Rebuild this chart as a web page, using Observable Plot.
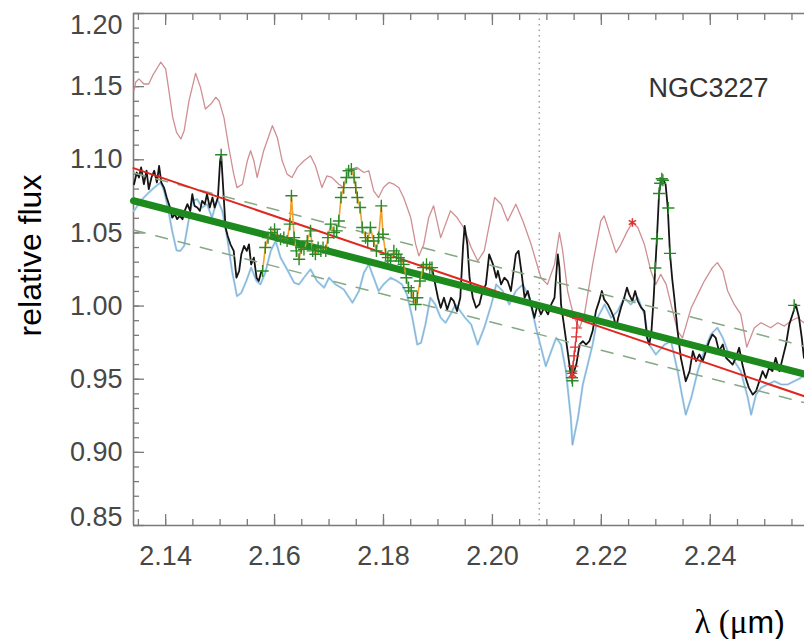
<!DOCTYPE html>
<html>
<head>
<meta charset="utf-8">
<script src="https://cdn.jsdelivr.net/npm/d3@7"></script>
<script src="https://cdn.jsdelivr.net/npm/@observablehq/plot@0.6"></script>
<style>
  body { margin: 0; background: #fff; }
</style>
</head>
<body>
<div id="chart"></div>
<script>
// Axis extents and labelled ticks
const xDomain = [2.1341, 2.2573];
const yDomain = [0.85, 1.20];
const xTickValues = [2.14, 2.16, 2.18, 2.20, 2.22, 2.24];
const yTickValues = [0.85, 0.90, 0.95, 1.00, 1.05, 1.10, 1.15, 1.20];
const xMinorTicks = d3.range(0, 25).map(i => 2.135 + i * 0.005);
const yMinorTicks = d3.range(0, 36).map(i => 0.85 + i * 0.01);

const objectName = "NGC3227";
const dividerWavelength = 2.2086;

// Upper (pink) spectrum
const fluxUpper = [
  [2.1342,1.1473],[2.1345,1.1530],[2.1351,1.1553],[2.1360,1.1518],[2.1369,1.1518],[2.1376,1.1575],
  [2.1391,1.1667],[2.1400,1.1621],[2.1406,1.1473],[2.1413,1.1290],[2.1420,1.1187],[2.1428,1.1142],
  [2.1434,1.1199],[2.1443,1.1404],[2.1455,1.1591],[2.1464,1.1495],[2.1473,1.1347],[2.1483,1.1381],
  [2.1492,1.1427],[2.1498,1.1404],[2.1507,1.1290],[2.1516,1.1084],[2.1525,1.0902],[2.1531,1.0810],
  [2.1541,1.0833],[2.1550,1.0993],[2.1556,1.1062],[2.1562,1.0993],[2.1568,1.0879],[2.1580,1.1062],
  [2.1596,1.1233],[2.1605,1.1153],[2.1614,1.0993],[2.1623,1.0902],[2.1632,1.0879],[2.1642,1.0948],
  [2.1654,1.0993],[2.1666,1.1027],[2.1675,1.0959],[2.1687,1.0810],[2.1696,1.0890],[2.1705,1.0879],
  [2.1718,1.0833],[2.1727,1.0810],[2.1733,1.0902],[2.1742,1.0936],[2.1751,1.0948],[2.1764,1.0913],
  [2.1773,1.0925],[2.1782,1.0788],[2.1791,1.0742],[2.1800,1.0810],[2.1810,1.0845],[2.1819,1.0833],
  [2.1828,1.0810],[2.1837,1.0742],[2.1850,1.0605],[2.1859,1.0423],[2.1865,1.0343],[2.1874,1.0423],
  [2.1883,1.0605],[2.1892,1.0685],[2.1905,1.0468],[2.1914,1.0560],[2.1923,1.0651],[2.1935,1.0605],
  [2.1947,1.0537],[2.1961,1.0400],[2.1973,1.0308],[2.1985,1.0377],[2.2004,1.0742],[2.2016,1.0696],
  [2.2028,1.0582],[2.2043,1.0696],[2.2056,1.0582],[2.2071,1.0422],[2.2089,1.0194],[2.2101,1.0148],
  [2.2114,1.0285],[2.2123,1.0502],[2.2129,1.0377],[2.2138,1.0103],[2.2150,0.9920],[2.2160,0.9852],
  [2.2169,0.9943],[2.2184,1.0285],[2.2199,1.0582],[2.2205,1.0617],[2.2218,1.0468],[2.2227,1.0365],
  [2.2236,1.0422],[2.2248,1.0514],[2.2257,1.0571],[2.2267,1.0537],[2.2279,1.0422],[2.2291,1.0240],
  [2.2300,1.0148],[2.2309,1.0217],[2.2319,1.0148],[2.2328,1.0011],[2.2340,0.9829],[2.2349,0.9783],
  [2.2365,0.9989],[2.2377,1.0080],[2.2389,1.0171],[2.2404,1.0263],[2.2413,1.0297],[2.2423,1.0240],
  [2.2432,1.0103],[2.2444,1.0011],[2.2456,0.9943],[2.2467,0.9720],[2.2481,0.9852],[2.2493,0.9886],
  [2.2511,0.9852],[2.2524,0.9886],[2.2536,0.9863],[2.2548,0.9898],[2.2560,0.9920],[2.2572,0.9886]
];

// Lower (light blue) spectrum
const fluxLower = [
  [2.1342,1.0651],[2.1354,1.0719],[2.1366,1.0765],[2.1379,1.0810],[2.1391,1.0845],[2.1397,1.0788],
  [2.1404,1.0674],[2.1412,1.0514],[2.1420,1.0381],[2.1427,1.0377],[2.1434,1.0411],[2.1441,1.0560],
  [2.1449,1.0719],[2.1458,1.0731],[2.1467,1.0674],[2.1476,1.0697],[2.1485,1.0605],[2.1495,1.0731],
  [2.1504,1.0651],[2.1513,1.0468],[2.1522,1.0240],[2.1531,1.0068],[2.1539,1.0091],[2.1548,1.0171],
  [2.1557,1.0263],[2.1567,1.0171],[2.1574,1.0148],[2.1583,1.0228],[2.1593,1.0377],[2.1602,1.0445],
  [2.1611,1.0331],[2.1623,1.0251],[2.1636,1.0160],[2.1645,1.0148],[2.1654,1.0194],[2.1666,1.0251],
  [2.1678,1.0171],[2.1691,1.0126],[2.1700,1.0194],[2.1712,1.0148],[2.1727,1.0114],[2.1743,1.0023],
  [2.1755,1.0103],[2.1764,1.0228],[2.1773,1.0285],[2.1782,1.0194],[2.1791,1.0103],[2.1800,1.0148],
  [2.1813,1.0194],[2.1825,1.0171],[2.1834,1.0148],[2.1843,1.0080],[2.1853,0.9920],[2.1862,0.9737],
  [2.1869,0.9749],[2.1877,0.9874],[2.1886,1.0057],[2.1895,1.0011],[2.1905,0.9920],[2.1914,0.9886],
  [2.1923,0.9943],[2.1932,1.0011],[2.1941,0.9966],[2.1950,0.9920],[2.1961,0.9874],[2.1973,0.9737],
  [2.1985,0.9852],[2.1998,1.0011],[2.2007,1.0148],[2.2019,1.0103],[2.2031,1.0011],[2.2043,1.0103],
  [2.2056,1.0148],[2.2068,1.0057],[2.2080,0.9852],[2.2098,0.9589],[2.2108,0.9692],[2.2117,0.9783],
  [2.2126,0.9737],[2.2135,0.9555],[2.2144,0.9235],[2.2147,0.9053],[2.2157,0.9235],[2.2166,0.9464],
  [2.2175,0.9600],[2.2184,0.9737],[2.2193,0.9920],[2.2206,1.0011],[2.2218,0.9920],[2.2230,0.9966],
  [2.2242,1.0057],[2.2254,1.0011],[2.2267,1.0057],[2.2279,0.9943],[2.2288,0.9737],[2.2300,0.9669],
  [2.2316,0.9737],[2.2328,0.9760],[2.2340,0.9555],[2.2349,0.9372],[2.2355,0.9258],[2.2365,0.9372],
  [2.2377,0.9555],[2.2389,0.9692],[2.2401,0.9806],[2.2413,0.9852],[2.2423,0.9783],[2.2432,0.9692],
  [2.2444,0.9623],[2.2456,0.9555],[2.2469,0.9372],[2.2475,0.9258],[2.2484,0.9395],[2.2493,0.9441],
  [2.2505,0.9464],[2.2518,0.9486],[2.2530,0.9464],[2.2542,0.9464],[2.2554,0.9486],[2.2566,0.9509],
  [2.2572,0.9532]
];

// Observed (black) spectrum, before and after the flagged stretch
const fluxObservedBlue = [
  [2.1342,1.0833],[2.1347,1.0913],[2.1351,1.0879],[2.1355,1.0948],[2.1360,1.0833],[2.1365,1.0925],
  [2.1369,1.0799],[2.1374,1.0879],[2.1379,1.0925],[2.1384,1.0845],[2.1388,1.0959],[2.1392,1.0845],
  [2.1397,1.0810],[2.1402,1.0742],[2.1408,1.0674],[2.1412,1.0605],[2.1417,1.0628],[2.1421,1.0594],
  [2.1426,1.0617],[2.1431,1.0594],[2.1435,1.0651],[2.1440,1.0697],[2.1445,1.0651],[2.1449,1.0765],
  [2.1453,1.0685],[2.1458,1.0674],[2.1463,1.0651],[2.1467,1.0719],[2.1472,1.0697],[2.1476,1.0765],
  [2.1481,1.0674],[2.1486,1.0742],[2.1490,1.0674],[2.1496,1.0742],[2.1500,1.0993],[2.1502,1.1034],
  [2.1506,1.0788],[2.1510,1.0537],[2.1514,1.0479],[2.1519,1.0422],[2.1525,1.0377],[2.1530,1.0194],
  [2.1535,1.0240],[2.1539,1.0354],[2.1544,1.0411],[2.1549,1.0377],[2.1553,1.0422],[2.1557,1.0285],
  [2.1562,1.0331],[2.1567,1.0194],[2.1571,1.0171],[2.1576,1.0240]
];
const fluxObservedRed = [
  [2.1889,1.0263],[2.1895,1.0148],[2.1900,1.0057],[2.1905,0.9988],[2.1911,1.0057],[2.1917,0.9977],
  [2.1924,1.0057],[2.1929,1.0034],[2.1935,0.9966],[2.1941,1.0057],[2.1946,1.0400],[2.1949,1.0548],
  [2.1954,1.0422],[2.1958,1.0194],[2.1964,1.0057],[2.1970,0.9989],[2.1976,1.0011],[2.1982,1.0103],
  [2.1988,1.0148],[2.1994,1.0354],[2.2001,1.0285],[2.2007,1.0194],[2.2010,1.0240],[2.2016,1.0148],
  [2.2022,1.0194],[2.2028,1.0171],[2.2034,1.0103],[2.2043,1.0354],[2.2048,1.0377],[2.2053,1.0240],
  [2.2059,1.0057],[2.2065,1.0103],[2.2071,1.0011],[2.2077,0.9920],[2.2083,1.0011],[2.2089,0.9943],
  [2.2095,0.9989],[2.2102,0.9943],[2.2108,1.0011],[2.2114,1.0057],[2.2120,1.0354],[2.2123,1.0263],
  [2.2126,1.0011],[2.2132,0.9852],[2.2138,0.9692],[2.2143,0.9555],[2.2146,0.9509],[2.2154,0.9600],
  [2.2160,0.9737],[2.2166,0.9760],[2.2172,0.9737],[2.2178,0.9760],[2.2184,0.9829],[2.2190,0.9966],
  [2.2196,1.0034],[2.2201,1.0103],[2.2205,1.0046],[2.2212,1.0011],[2.2218,0.9966],[2.2223,0.9920],
  [2.2227,0.9852],[2.2231,0.9920],[2.2236,0.9989],[2.2242,1.0057],[2.2247,1.0126],[2.2251,1.0080],
  [2.2257,1.0034],[2.2262,1.0103],[2.2267,1.0034],[2.2273,0.9989],[2.2279,0.9966],[2.2284,0.9783],
  [2.2288,0.9737],[2.2292,0.9829],[2.2296,1.0050],[2.2299,1.0260],[2.2302,1.0460],[2.2306,1.0770],
  [2.2310,1.0860],[2.2314,1.0865],[2.2318,1.0830],[2.2322,1.0670],[2.2326,1.0360],[2.2330,1.0190],
  [2.2334,1.0057],[2.2340,0.9829],[2.2346,0.9646],[2.2355,0.9486],[2.2362,0.9555],[2.2368,0.9692],
  [2.2374,0.9623],[2.2380,0.9669],[2.2386,0.9623],[2.2392,0.9692],[2.2398,0.9760],[2.2404,0.9806],
  [2.2410,0.9783],[2.2416,0.9692],[2.2423,0.9737],[2.2429,0.9646],[2.2435,0.9623],[2.2441,0.9600],
  [2.2447,0.9646],[2.2453,0.9715],[2.2459,0.9600],[2.2465,0.9509],[2.2471,0.9441],[2.2478,0.9395],
  [2.2484,0.9418],[2.2490,0.9486],[2.2496,0.9555],[2.2502,0.9509],[2.2508,0.9578],[2.2514,0.9555],
  [2.2520,0.9646],[2.2527,0.9555],[2.2533,0.9646],[2.2539,0.9737],[2.2545,0.9874],[2.2551,0.9943],
  [2.2557,1.0011],[2.2563,0.9920],[2.2568,0.9783],[2.2572,0.9646]
];

// Flagged stretch of the spectrum (orange, each point marked)
const flaggedStretch = [
  [2.1578,1.0240],[2.1583,1.0400],[2.1588,1.0468],[2.1593,1.0502],[2.1600,1.0525],[2.1605,1.0479],
  [2.1611,1.0457],[2.1617,1.0468],[2.1623,1.0445],[2.1628,1.0560],[2.1631,1.0754],[2.1636,1.0468],
  [2.1640,1.0377],[2.1645,1.0320],[2.1649,1.0400],[2.1654,1.0388],[2.1660,1.0445],[2.1666,1.0514],
  [2.1670,1.0377],[2.1675,1.0354],[2.1680,1.0400],[2.1685,1.0377],[2.1689,1.0400],[2.1694,1.0377],
  [2.1698,1.0468],[2.1703,1.0560],[2.1709,1.0502],[2.1714,1.0514],[2.1718,1.0582],[2.1722,1.0742],
  [2.1727,1.0810],[2.1732,1.0879],[2.1736,1.0925],[2.1741,1.0936],[2.1746,1.0879],[2.1749,1.0810],
  [2.1752,1.0742],[2.1757,1.0674],[2.1761,1.0537],[2.1767,1.0468],[2.1771,1.0445],[2.1776,1.0537],
  [2.1782,1.0445],[2.1787,1.0377],[2.1791,1.0468],[2.1796,1.0685],[2.1799,1.0491],[2.1804,1.0354],
  [2.1808,1.0331],[2.1813,1.0308],[2.1819,1.0377],[2.1824,1.0354],[2.1828,1.0331],[2.1832,1.0308],
  [2.1837,1.0285],[2.1842,1.0194],[2.1846,1.0126],[2.1851,1.0103],[2.1855,1.0057],[2.1859,1.0011],
  [2.1862,1.0057],[2.1867,1.0171],[2.1873,1.0263],[2.1879,1.0285],[2.1885,1.0263],[2.1889,1.0263]
];

// Other marked points (green plus signs)
const extraMarks = [
  [2.1502,1.1034],
  [2.2145,0.9555],[2.2146,0.9510],[2.2147,0.9490],
  [2.2299,1.0260],[2.2302,1.0460],[2.2306,1.0770],[2.2308,1.0840],[2.2311,1.0870],[2.2313,1.0860],
  [2.2323,1.0670],[2.2326,1.0360],
  [2.2554,1.0005]
];

// Absorption-line points (red)
const absorptionMarks = [
  [2.2156,0.9915],[2.2155,0.9850],[2.2154,0.9790],[2.2152,0.9720],[2.2150,0.9660],[2.2148,0.9590],[2.2146,0.9540]
];
const starMarks = [[2.2257,1.0571],[2.2147,0.9530]];

// Straight fits: red continuum, thick green continuum and its dashed band
const redFit = [[2.1341,1.0943],[2.2573,0.9383]];
const greenFit = [[2.1341,1.0720],[2.2573,0.9535]];
const bandUpper = [[2.1341,1.0910],[2.2573,0.9725]];
const bandLower = [[2.1341,1.0520],[2.2573,0.9340]];

const X = d => d[0], Y = d => d[1];
const axisColor = "#7a7a7a";
const labelColor = "#474747";
const fmt = d3.format(".2f");
const blank = () => "";

const chart = Plot.plot({
  width: 804,
  height: 639,
  marginTop: 13,
  marginLeft: 133,
  marginRight: 0,
  marginBottom: 114,
  x: {domain: xDomain},
  y: {domain: yDomain},
  style: {fontFamily: "'Liberation Sans', Arial, sans-serif", background: "#fff", overflow: "visible"},
  marks: [
    // frame: left, top and bottom edges
    Plot.ruleY([yDomain[0], yDomain[1]], {stroke: axisColor, strokeWidth: 1.6}),
    Plot.ruleX([xDomain[0]], {stroke: axisColor, strokeWidth: 1.6}),

    // ticks pointing into the frame
    Plot.axisX(xMinorTicks, {anchor: "bottom", tickSize: 6, dy: -6, tickFormat: blank, stroke: axisColor, strokeWidth: 1.3, label: null}),
    Plot.axisX(xTickValues, {anchor: "bottom", tickSize: 11, dy: -11, tickFormat: blank, stroke: axisColor, strokeWidth: 1.3, label: null}),
    Plot.axisX(xMinorTicks, {anchor: "top", tickSize: 6, dy: 6, tickFormat: blank, stroke: axisColor, strokeWidth: 1.3, label: null}),
    Plot.axisX(xTickValues, {anchor: "top", tickSize: 11, dy: 11, tickFormat: blank, stroke: axisColor, strokeWidth: 1.3, label: null}),
    Plot.axisY(yMinorTicks, {anchor: "left", tickSize: 6, dx: 6, tickFormat: blank, stroke: axisColor, strokeWidth: 1.3, label: null}),
    Plot.axisY(yTickValues, {anchor: "left", tickSize: 11, dx: 11, tickFormat: blank, stroke: axisColor, strokeWidth: 1.3, label: null}),

    // tick labels
    Plot.axisX(xTickValues, {anchor: "bottom", tickSize: 0, tickPadding: 20, tickFormat: fmt,
      fontSize: 27, fill: labelColor, label: null}),
    Plot.axisY(yTickValues.slice(1, -1), {anchor: "left", tickSize: 0, tickPadding: 11, tickFormat: fmt,
      fontSize: 27, fill: labelColor, label: null}),
    Plot.axisY([yTickValues[yTickValues.length - 1]], {anchor: "left", tickSize: 0, tickPadding: 11, tickFormat: fmt,
      fontSize: 27, fill: labelColor, label: null, dy: 12}),
    Plot.axisY([yTickValues[0]], {anchor: "left", tickSize: 0, tickPadding: 11, tickFormat: fmt,
      fontSize: 27, fill: labelColor, label: null, dy: -8}),

    // vertical divider
    Plot.ruleX([dividerWavelength], {stroke: "#9a9a9a", strokeWidth: 1.4, strokeDasharray: "1.5,4"}),

    // spectra
    Plot.line(fluxUpper, {x: X, y: Y, stroke: "#cf8f93", strokeWidth: 1.3}),
    Plot.line(fluxLower, {x: X, y: Y, stroke: "#a3d9ee", strokeWidth: 2.2}),
    Plot.line(fluxLower, {x: X, y: Y, stroke: "#7c7cb8", strokeWidth: 0.8, strokeOpacity: 0.6}),
    Plot.line(fluxObservedBlue, {x: X, y: Y, stroke: "#151515", strokeWidth: 1.8}),
    Plot.line(fluxObservedRed, {x: X, y: Y, stroke: "#151515", strokeWidth: 1.8}),

    // continuum fits
    Plot.line(bandUpper, {x: X, y: Y, stroke: "#86a886", strokeWidth: 1.5, strokeDasharray: "12,11"}),
    Plot.line(bandLower, {x: X, y: Y, stroke: "#86a886", strokeWidth: 1.5, strokeDasharray: "12,11"}),
    Plot.line(redFit, {x: X, y: Y, stroke: "#e0261f", strokeWidth: 2}),
    Plot.line(greenFit, {x: X, y: Y, stroke: "#1c8a1c", strokeWidth: 7}),

    // flagged points
    Plot.line(flaggedStretch, {x: X, y: Y, stroke: "#f0a02c", strokeWidth: 1.6}),
    Plot.line(absorptionMarks, {x: X, y: Y, stroke: "#e43030", strokeWidth: 1.2}),
    Plot.dot(absorptionMarks, {x: X, y: Y, symbol: "plus", r: 3.5, stroke: "#e43030", strokeWidth: 1.2}),
    Plot.dot(flaggedStretch, {x: X, y: Y, symbol: "plus", r: 4, stroke: "#2a8a2a", strokeWidth: 1.4}),
    Plot.dot(extraMarks, {x: X, y: Y, symbol: "plus", r: 4, stroke: "#2a8a2a", strokeWidth: 1.4}),
    Plot.dot(starMarks, {x: X, y: Y, symbol: "asterisk", r: 4, stroke: "#e43030", strokeWidth: 1.5}),

    // labels
    Plot.text([objectName], {frameAnchor: "top-right", text: d => d, textAnchor: "end", dx: -36, dy: 64,
      fontSize: 27, fill: "#333"}),
    Plot.text(["relative flux"], {frameAnchor: "left", text: d => d, textAnchor: "middle", rotate: -90, dx: -103, dy: -14,
      fontSize: 32, fill: "#000"}),
    Plot.text(["λ (μ"], {frameAnchor: "bottom-right", text: d => d, textAnchor: "end", lineAnchor: "bottom",
      dx: -57, dy: 107, fontSize: 33, fill: "#000", fontFamily: "'Liberation Serif', 'Times New Roman', serif"}),
    Plot.text(["m)"], {frameAnchor: "bottom-right", text: d => d, textAnchor: "start", lineAnchor: "bottom",
      dx: -57, dy: 107, fontSize: 32, fill: "#000"})
  ]
});

document.getElementById("chart").append(chart);
</script>
</body>
</html>
